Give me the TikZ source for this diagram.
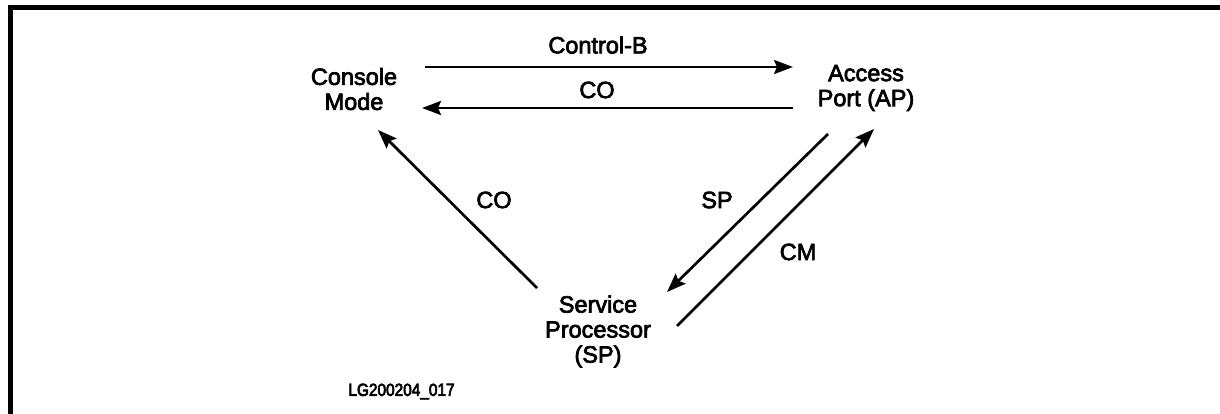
\documentclass[tikz,border=0pt]{standalone}
\usepackage{fontspec}
\setmainfont{Liberation Sans}
\usetikzlibrary{arrows.meta}
\newcommand\heavytxt[1]{\special{pdf:literal direct 2 Tr 0.7 w}#1\special{pdf:literal direct 0 Tr}}
\begin{document}
\begin{tikzpicture}[x=1pt,y=-1pt,
  state/.style={align=center,inner sep=0pt,font=\fontsize{23.5}{25}\selectfont},
  elabel/.style={inner sep=0pt,font=\fontsize{23.5}{25}\selectfont},
  conn/.style={line width=2.7pt,-{Stealth[length=19pt,width=14pt,inset=3pt]}},
  frameline/.style={line width=5pt,miter limit=10}]
\useasboundingbox (0,0) rectangle (1220,414);
\fill[white] (0,0) rectangle (1220,414);
% frame
\coordinate (fbl) at (10.5,414);
\coordinate (ftl) at (10.5,8);
\coordinate (ftr) at (1220,8);
\draw[frameline] (fbl) -- (ftl) -- (ftr);
% states
\node[state] (cm) at (354,89) {\heavytxt{Console}\\\heavytxt{Mode}};
\node[state] (ap) at (866,88) {\heavytxt{Access}\\\heavytxt{Port (AP)}};
\node[state] (sp) at (598,331.5) {\heavytxt{Service}\\\heavytxt{Processor}\\\heavytxt{(SP)}};
% connector end points
\coordinate (cb1) at (425,67);
\coordinate (cb2) at (793,67);
\coordinate (co1) at (793,108);
\coordinate (co2) at (422,108);
\coordinate (sp1) at (828,134);
\coordinate (sp2) at (667,292);
\coordinate (cm1) at (677,326);
\coordinate (cm2) at (874,129);
\coordinate (cd1) at (537,288);
\coordinate (cd2) at (378,130);
% connectors
\draw[conn] (cb1) -- (cb2);
\draw[conn] (co1) -- (co2);
\draw[conn] (sp1) -- (sp2);
\draw[conn] (cm1) -- (cm2);
\draw[conn] (cd1) -- (cd2);
% labels
\node[elabel] (lcb) at (598,45) {\heavytxt{Control-B}};
\node[elabel] (lco) at (597,90) {\heavytxt{CO}};
\node[elabel] (lsp) at (717,200) {\heavytxt{SP}};
\node[elabel] (lcm) at (798,252) {\heavytxt{CM}};
\node[elabel] (lcd) at (494,200) {\heavytxt{CO}};
\node[inner sep=0pt,font=\fontsize{17.5}{19}\selectfont] (lg) at (401.5,391.5) {\scalebox{0.88}[1]{\heavytxt{LG200204\_017}}};
\end{tikzpicture}
\end{document}
